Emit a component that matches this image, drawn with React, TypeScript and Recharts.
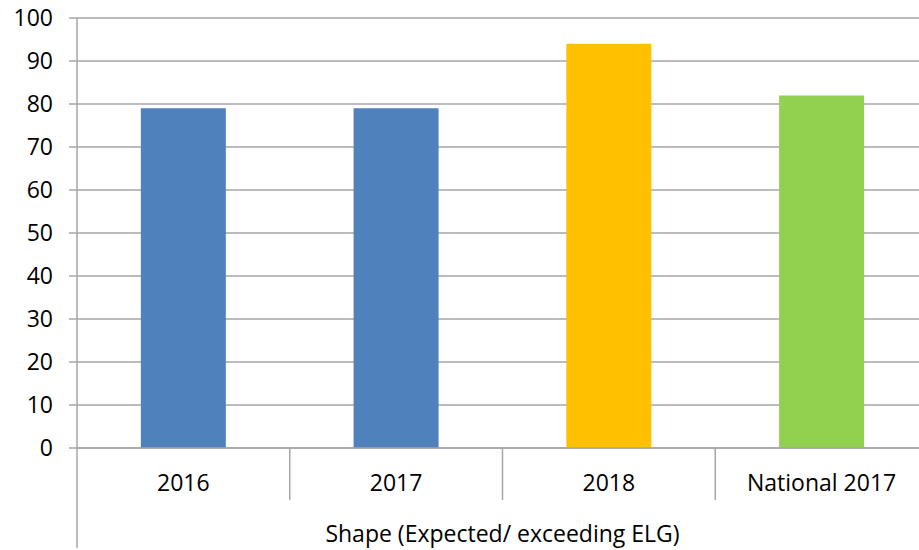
import { BarChart, Bar, XAxis, YAxis, CartesianGrid, Cell } from 'recharts'

const categories = ['2016', '2017', '2018', 'National 2017']
const values = [79, 79, 94, 82]
const yTicks = [0, 10, 20, 30, 40, 50, 60, 70, 80, 90, 100]
const axisTitle = 'Shape (Expected/ exceeding ELG)'

const barColors = ['#4F81BD', '#4F81BD', '#FFC000', '#92D050']
const gridColor = '#A6A6A6'
const font = '"Open Sans", sans-serif'

const data = categories.map((name, i) => ({ name, value: values[i] }))

// category label plus the group separators of a two-level axis
function CategoryTick(props: any) {
  const { x, y, payload, index } = props
  const off = payload.offset ?? 106
  return (
    <g>
      <text x={x} y={y + 43} textAnchor="middle" fontSize={23} fontFamily={font} fill="#000">
        {payload.value}
      </text>
      {index < categories.length - 1 && (
        <line x1={x + off} x2={x + off} y1={y} y2={y + 52} stroke={gridColor} strokeWidth={1.5} />
      )}
      {index === 0 && (
        <line x1={x - off} x2={x - off} y1={y} y2={y + 100} stroke={gridColor} strokeWidth={1.5} />
      )}
    </g>
  )
}

export default function App() {
  return (
    <div style={{ position: 'absolute', left: 0, top: 0, width: 919, height: 550, overflow: 'hidden', background: '#fff' }}>
      <BarChart
        width={930}
        height={550}
        data={data}
        margin={{ top: 18, right: 2, bottom: 2, left: 0 }}
        barCategoryGap="30%"
      >
        <CartesianGrid vertical={false} stroke={gridColor} strokeWidth={1.5} />
        <XAxis
          dataKey="name"
          height={100}
          interval={0}
          tickSize={0}
          tickMargin={0}
          tickLine={false}
          axisLine={{ stroke: gridColor, strokeWidth: 1.5 }}
          tick={<CategoryTick />}
          label={{ value: axisTitle, position: 'insideBottom', offset: 6, fontSize: 23, fontFamily: font, fill: '#000' }}
        />
        <YAxis
          width={77}
          domain={[0, 100]}
          ticks={yTicks}
          interval={0}
          tickSize={8}
          tickMargin={16}
          axisLine={{ stroke: gridColor, strokeWidth: 1.5 }}
          tickLine={{ stroke: gridColor, strokeWidth: 1.5 }}
          tick={{ fontSize: 23, fontFamily: font, fill: '#000' }}
        />
        <Bar dataKey="value" isAnimationActive={false}>
          {data.map((d, i) => (
            <Cell key={d.name} fill={barColors[i]} />
          ))}
        </Bar>
      </BarChart>
    </div>
  )
}
